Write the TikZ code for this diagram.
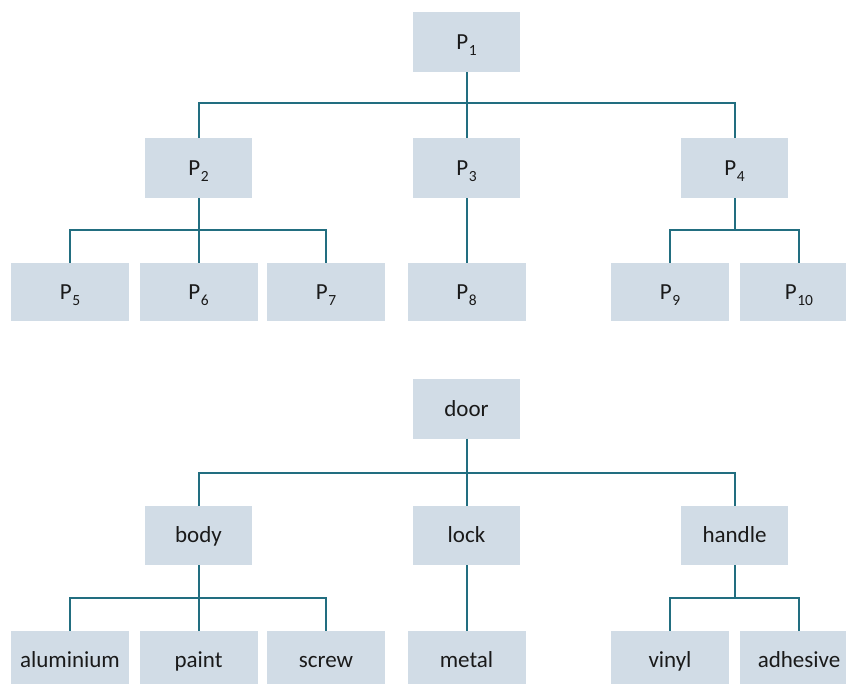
\documentclass[tikz,border=0pt]{standalone}
\usepackage{fontspec}
\setmainfont{Carlito}
\definecolor{boxfill}{HTML}{D1DCE6}
\definecolor{linecol}{HTML}{226E80}
\definecolor{txt}{HTML}{1A1A1A}
\newcommand\Psub[1]{P\kern0.5pt\raisebox{-6pt}{\fontsize{15.5}{15.5}\selectfont #1}}
\begin{document}
\begin{tikzpicture}[x=1pt,y=-1pt,
  box/.style={fill=boxfill,draw=none,inner sep=0pt,text=txt,
    font=\fontsize{23}{23}\selectfont,text height=14.8pt,text depth=0pt},
  upper/.style={box,minimum width=107pt,minimum height=60pt},
  lower/.style={box,minimum width=118pt,minimum height=58pt},
  conn/.style={draw=linecol,line width=2pt}]
\useasboundingbox (0,0) rectangle (846,684);
\fill[white] (0,0) rectangle (846,684);
\begin{scope}
\clip (0,0) rectangle (846,684);
% ---------- top tree ----------
\node[upper] (P1) at (466.5,42) {\Psub{1}};
\node[upper] (P2) at (198.5,168) {\Psub{2}};
\node[upper] (P3) at (466.5,168) {\Psub{3}};
\node[upper] (P4) at (734.5,168) {\Psub{4}};
\node[lower] (P5) at (70,292) {\Psub{5}};
\node[lower] (P6) at (198.5,292) {\Psub{6}};
\node[lower] (P7) at (326,292) {\Psub{7}};
\node[lower] (P8) at (466.5,292) {\Psub{8}};
\node[lower] (P9) at (670,292) {\Psub{9}};
\node[lower] (P10) at (799,292) {\Psub{10}};
\coordinate (b1) at (466.5,103);
\coordinate (b2) at (198.5,230);
\coordinate (b4) at (734.5,230);
\draw[conn] (P1.south) -- (P3.north);
\draw[conn] (P2.north) |- (b1) -| (P4.north);
\draw[conn] (P2.south) -- (P6.north);
\draw[conn] (P5.north) |- (b2) -| (P7.north);
\draw[conn] (P3.south) -- (P8.north);
\draw[conn] (P4.south) -- (b4);
\draw[conn] (P9.north) |- (b4) -| (P10.north);
% ---------- bottom tree ----------
\node[upper,minimum height=59pt] (door) at (466.5,409) {door};
\node[upper,minimum height=59pt] (body) at (198.5,535.5) {body};
\node[upper,minimum height=59pt] (lock) at (466.5,535.5) {lock};
\node[upper,minimum height=59pt] (handle) at (734.5,535.5) {handle};
\node[lower] (alu) at (70,660) {aluminium};
\node[lower] (paint) at (198.5,660) {paint};
\node[lower] (screw) at (326,660) {screw};
\node[lower] (metal) at (466.5,660) {metal};
\node[lower] (vinyl) at (670,660) {vinyl};
\node[lower] (adh) at (799,660) {adhesive};
\coordinate (c1) at (466.5,473);
\coordinate (c2) at (198.5,598);
\coordinate (c4) at (734.5,598);
\draw[conn] (door.south) -- (lock.north);
\draw[conn] (body.north) |- (c1) -| (handle.north);
\draw[conn] (body.south) -- (paint.north);
\draw[conn] (alu.north) |- (c2) -| (screw.north);
\draw[conn] (lock.south) -- (metal.north);
\draw[conn] (handle.south) -- (c4);
\draw[conn] (vinyl.north) |- (c4) -| (adh.north);
\end{scope}
\end{tikzpicture}
\end{document}
